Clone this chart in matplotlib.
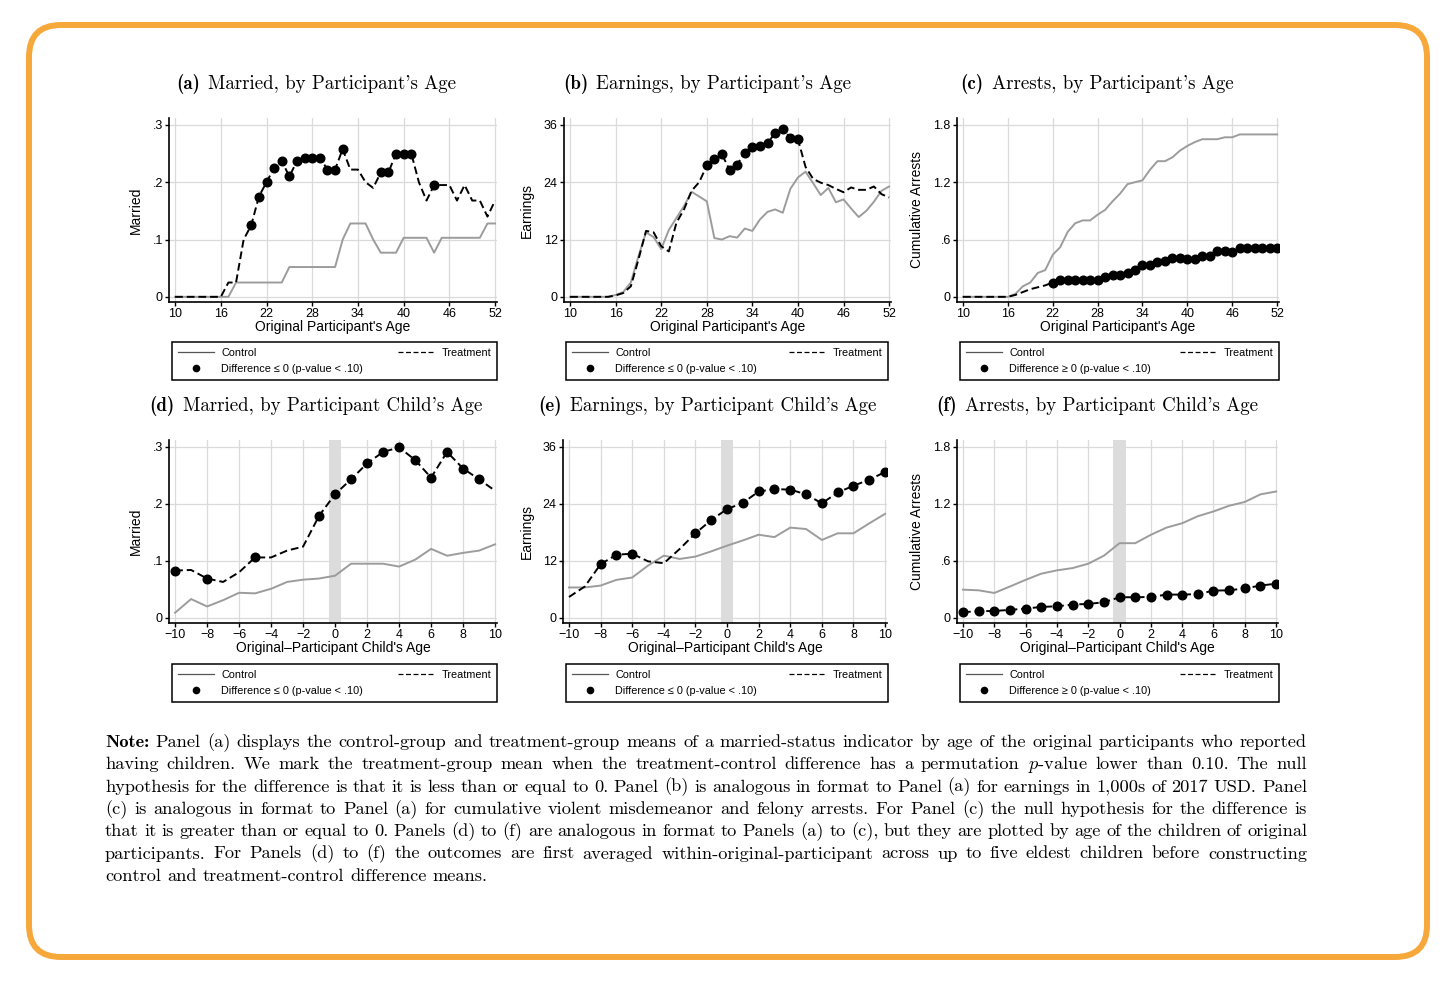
import matplotlib
matplotlib.use("Agg")
import matplotlib.pyplot as plt
from matplotlib.lines import Line2D
from matplotlib.patches import FancyBboxPatch
from matplotlib.transforms import IdentityTransform

plt.rcParams['font.family'] = ['Liberation Sans', 'DejaVu Sans']
plt.rcParams['mathtext.fontset'] = 'cm'

# ---- data ----
ages_top = list(range(10, 53))
ages_child = list(range(-10, 11))

married_ctrl = [0, 0, 0, 0, 0, 0, 0, 0,
                0.025, 0.025, 0.025, 0.025, 0.025, 0.025, 0.025,
                0.052, 0.052, 0.052, 0.052, 0.052, 0.052, 0.052,
                0.100, 0.128, 0.128, 0.128, 0.100, 0.077, 0.077, 0.077,
                0.103, 0.103, 0.103, 0.103, 0.077, 0.103, 0.103, 0.103,
                0.103, 0.103, 0.103, 0.128, 0.128]
married_treat = [0, 0, 0, 0, 0, 0, 0,
                 0.025, 0.025, 0.100, 0.125, 0.175, 0.200, 0.225, 0.237,
                 0.210, 0.237, 0.243, 0.243, 0.243, 0.222, 0.222, 0.258,
                 0.222, 0.222, 0.200, 0.190, 0.217, 0.217, 0.250, 0.250,
                 0.250, 0.200, 0.168, 0.195, 0.195, 0.195, 0.168, 0.195,
                 0.168, 0.168, 0.140, 0.168]
married_sig = [20, 21, 22, 23, 24, 25, 26, 27, 28, 29, 30, 31, 32,
               37, 38, 39, 40, 41, 44]

earn_ctrl = [0, 0, 0, 0, 0, 0,
             0.4, 1.0, 3.0, 8.5, 13.5, 12.5, 10.0, 14.0, 16.5, 19.0,
             22.0, 21.0, 20.0, 12.3, 12.0, 12.7, 12.4, 14.3, 13.8, 16.2,
             17.8, 18.3, 17.6, 22.6, 25.0, 26.2, 23.8, 21.3, 22.8, 19.8,
             20.4, 18.5, 16.7, 18.0, 19.9, 22.2, 23.1]
earn_treat = [0, 0, 0, 0, 0, 0,
              0.3, 0.8, 2.2, 7.8, 13.8, 13.5, 10.6, 9.5, 15.5, 18.3,
              22.2, 24.0, 27.5, 28.8, 29.8, 26.6, 27.7, 30.2, 31.3, 31.6,
              32.2, 34.3, 35.2, 33.3, 33.0, 27.2, 24.7, 23.9, 23.4, 22.6,
              21.9, 22.9, 22.4, 22.4, 23.1, 21.5, 20.8]
earn_sig = [28, 29, 30, 31, 32, 33, 34, 35, 36, 37, 38, 39, 40]

arrest_ctrl = [0, 0, 0, 0, 0, 0, 0,
               0.03, 0.11, 0.15, 0.25, 0.28, 0.44, 0.52, 0.68, 0.77,
               0.80, 0.80, 0.86, 0.91, 1.00, 1.08, 1.18, 1.20, 1.22, 1.33,
               1.42, 1.42, 1.46, 1.53, 1.58, 1.62, 1.65, 1.65, 1.65, 1.67,
               1.67, 1.70, 1.70, 1.70, 1.70, 1.70, 1.70]
arrest_treat = [0, 0, 0, 0, 0, 0, 0,
                0.02, 0.05, 0.08, 0.10, 0.12, 0.15, 0.175, 0.175, 0.175,
                0.175, 0.175, 0.175, 0.21, 0.23, 0.225, 0.25, 0.28, 0.33,
                0.33, 0.36, 0.38, 0.41, 0.41, 0.40, 0.40, 0.43, 0.43, 0.48,
                0.48, 0.47, 0.51, 0.51, 0.51, 0.51, 0.51, 0.51]
arrest_sig = list(range(22, 53))

mc_ctrl = [0.009, 0.033, 0.020, 0.031, 0.044, 0.043, 0.051, 0.063, 0.067,
           0.069, 0.074, 0.095, 0.095, 0.095, 0.090, 0.102, 0.121, 0.109,
           0.114, 0.118, 0.129]
mc_treat = [0.083, 0.084, 0.069, 0.063, 0.080, 0.106, 0.106, 0.118, 0.125,
            0.179, 0.217, 0.243, 0.271, 0.291, 0.299, 0.277, 0.246, 0.291,
            0.262, 0.243, 0.223]
mc_sig = [-10, -8, -5, -1, 0, 1, 2, 3, 4, 5, 6, 7, 8, 9]

ec_ctrl = [6.4, 6.4, 6.8, 8.0, 8.5, 11.0, 13.1, 12.4, 12.9, 14.0, 15.2,
           16.3, 17.5, 17.0, 19.0, 18.7, 16.4, 17.8, 17.8, 19.9, 21.9]
ec_treat = [4.4, 6.6, 11.3, 13.3, 13.5, 11.9, 11.5, 14.5, 17.8, 20.6, 22.9,
            24.2, 26.6, 27.1, 27.0, 26.0, 24.1, 26.4, 27.8, 29.1, 30.7]
ec_sig = [-8, -7, -6, -2, -1, 0, 1, 2, 3, 4, 5, 6, 7, 8, 9, 10]

ac_ctrl = [0.297, 0.290, 0.262, 0.330, 0.400, 0.465, 0.500, 0.524, 0.570,
           0.654, 0.786, 0.786, 0.874, 0.950, 0.996, 1.070, 1.120, 1.180,
           1.220, 1.300, 1.330]
ac_treat = [0.060, 0.070, 0.073, 0.084, 0.098, 0.115, 0.122, 0.140, 0.147,
            0.164, 0.217, 0.217, 0.220, 0.245, 0.245, 0.250, 0.287, 0.290,
            0.310, 0.340, 0.360]
ac_sig = list(range(-10, 11))

top_xticks = [10, 16, 22, 28, 34, 40, 46, 52]
child_xticks = [-10, -8, -6, -4, -2, 0, 2, 4, 6, 8, 10]
child_xlabels = ['\u221210', '\u22128', '\u22126', '\u22124', '\u22122',
                 '0', '2', '4', '6', '8', '10']
married_yticks = [0, 0.1, 0.2, 0.3]
married_ylabels = ['0', '.1', '.2', '.3']
earn_yticks = [0, 12, 24, 36]
earn_ylabels = ['0', '12', '24', '36']
arrest_yticks = [0, 0.6, 1.2, 1.8]
arrest_ylabels = ['0', '.6', '1.2', '1.8']

titles = ["Married, by Participant's Age", "Earnings, by Participant's Age",
          "Arrests, by Participant's Age", "Married, by Participant Child's Age",
          "Earnings, by Participant Child's Age", "Arrests, by Participant Child's Age"]
letters = ['(a)', '(b)', '(c)', '(d)', '(e)', '(f)']

note_lines = [
    "Note: Panel (a) displays the control-group and treatment-group means of a married-status indicator by age of the original participants who reported",
    "having children. We mark the treatment-group mean when the treatment-control difference has a permutation $p$-value lower than 0.10. The null",
    "hypothesis for the difference is that it is less than or equal to 0. Panel (b) is analogous in format to Panel (a) for earnings in 1,000s of 2017 USD. Panel",
    "(c) is analogous in format to Panel (a) for cumulative violent misdemeanor and felony arrests. For Panel (c) the null hypothesis for the difference is",
    "that it is greater than or equal to 0. Panels (d) to (f) are analogous in format to Panels (a) to (c), but they are plotted by age of the children of original",
    "participants. For Panels (d) to (f) the outcomes are first averaged within-original-participant across up to five eldest children before constructing",
    "control and treatment-control difference means.",
]

# ---- layout (pixels) ----
W, H = 1456, 982
GRAY = '#9c9c9c'
GRID = '#dadada'
NOTE_SIZE = 13.2
TITLE_SIZE = 13.6


def fig_rect(x0, y0, x1, y1):
    return [x0 / W, 1 - y1 / H, (x1 - x0) / W, (y1 - y0) / H]


fig = plt.figure(figsize=(W / 100, H / 100), dpi=100)
fig.patch.set_facecolor('white')
renderer = fig.canvas.get_renderer()

panels = [
    dict(x=ages_top, c=married_ctrl, t=married_treat, sig=married_sig, band=False,
         xt=top_xticks, xl=[str(v) for v in top_xticks], yt=married_yticks, yl=married_ylabels,
         ylab='Married', xlab="Original Participant's Age", sign='\u2264',
         box=(169, 118, 497, 302), ylx=136, tx=316, ty=84, leg=(172, 342, 497, 379)),
    dict(x=ages_top, c=earn_ctrl, t=earn_treat, sig=earn_sig, band=False,
         xt=top_xticks, xl=[str(v) for v in top_xticks], yt=earn_yticks, yl=earn_ylabels,
         ylab='Earnings', xlab="Original Participant's Age", sign='\u2264',
         box=(564, 118, 891, 302), ylx=527, tx=707, ty=84, leg=(566, 342, 888, 379)),
    dict(x=ages_top, c=arrest_ctrl, t=arrest_treat, sig=arrest_sig, band=False,
         xt=top_xticks, xl=[str(v) for v in top_xticks], yt=arrest_yticks, yl=arrest_ylabels,
         ylab='Cumulative Arrests', xlab="Original Participant's Age", sign='\u2265',
         box=(957, 118, 1279, 302), ylx=917, tx=1097, ty=84, leg=(960, 342, 1279, 379)),
    dict(x=ages_child, c=mc_ctrl, t=mc_treat, sig=mc_sig, band=True,
         xt=child_xticks, xl=child_xlabels, yt=married_yticks, yl=married_ylabels,
         ylab='Married', xlab="Original\u2013Participant Child's Age", sign='\u2264',
         box=(169, 440, 497, 623), ylx=136, tx=316, ty=406, leg=(172, 664, 497, 701)),
    dict(x=ages_child, c=ec_ctrl, t=ec_treat, sig=ec_sig, band=True,
         xt=child_xticks, xl=child_xlabels, yt=earn_yticks, yl=earn_ylabels,
         ylab='Earnings', xlab="Original\u2013Participant Child's Age", sign='\u2264',
         box=(563, 440, 887, 623), ylx=527, tx=707, ty=406, leg=(566, 664, 888, 701)),
    dict(x=ages_child, c=ac_ctrl, t=ac_treat, sig=ac_sig, band=True,
         xt=child_xticks, xl=child_xlabels, yt=arrest_yticks, yl=arrest_ylabels,
         ylab='Cumulative Arrests', xlab="Original\u2013Participant Child's Age", sign='\u2265',
         box=(957, 440, 1278, 623), ylx=917, tx=1097, ty=406, leg=(960, 664, 1279, 701)),
]

for p, letter, title in zip(panels, letters, titles):
    x0, y0, x1, y1 = p['box']
    ax = fig.add_axes(fig_rect(x0, y0, x1, y1))
    xs = p['x']
    xmin, xmax = xs[0], xs[-1]
    xr = xmax - xmin
    ymax = p['yt'][-1]
    ax.set_xlim(xmin - 0.019 * xr, xmax + 0.006 * xr)
    ax.set_ylim(-0.03 * ymax, ymax * 1.04)

    ax.set_axisbelow(True)
    ax.grid(True, color=GRID, lw=0.9)
    if p['band']:
        ax.axvspan(-0.4, 0.4, color='#dcdcdc', lw=0, zorder=1)

    ax.plot(xs, p['c'], color=GRAY, lw=1.4, zorder=3)
    ax.plot(xs, p['t'], color='black', lw=1.4, ls=(0, (4, 2)), zorder=4)
    sig_y = [p['t'][xs.index(a)] for a in p['sig']]
    ax.plot(p['sig'], sig_y, ls='none', marker='o', ms=6.2, color='black', zorder=5)

    ax.set_xticks(p['xt'])
    ax.set_xticklabels(p['xl'])
    ax.set_yticks(p['yt'])
    ax.set_yticklabels(p['yl'])
    ax.tick_params(direction='out', length=3, width=1, labelsize=9, pad=1.5, colors='black')
    for side in ('top', 'right'):
        ax.spines[side].set_visible(False)
    for side in ('left', 'bottom'):
        ax.spines[side].set_linewidth(1.2)

    ax.text((p['ylx'] - x0) / (x1 - x0), 0.5, p['ylab'], rotation=90, ha='center', va='center',
            fontsize=10, transform=ax.transAxes)
    ax.text(0.5, -25 / (y1 - y0), p['xlab'], ha='center', va='center',
            fontsize=10, transform=ax.transAxes)

    # panel caption: bold letter + roman text, centred as one piece
    ty = 1 - p['ty'] / H
    t_bold = fig.text(0, ty, letter, family='cmb10', fontsize=TITLE_SIZE, ha='left', va='center')
    t_rest = fig.text(0, ty, title, family='cmr10', fontsize=TITLE_SIZE, ha='left', va='center')
    wb = t_bold.get_window_extent(renderer).width
    wr = t_rest.get_window_extent(renderer).width
    sp = 0.42 * TITLE_SIZE * 100 / 72
    start = p['tx'] - (wb + sp + wr) / 2
    t_bold.set_x(start / W)
    t_rest.set_x((start + wb + sp) / W)

    handles = [Line2D([], [], color='#555555', lw=0.9),
               Line2D([], [], ls='none', marker='o', ms=4.5, color='black'),
               Line2D([], [], color='black', lw=0.9, ls=(0, (4, 2)))]
    labels = ['Control', 'Difference %s 0 (p-value < .10)' % p['sign'], 'Treatment']
    lx0, ly0, lx1, ly1 = p['leg']
    leg = ax.legend(handles, labels, ncol=2, mode='expand', loc='upper left',
                    bbox_to_anchor=(lx0 / W, 1 - ly1 / H, (lx1 - lx0) / W, (ly1 - ly0) / H),
                    bbox_transform=fig.transFigure, borderaxespad=0, fancybox=False,
                    edgecolor='black', framealpha=1, fontsize=7.8, handlelength=3.3,
                    handletextpad=0.7, borderpad=0.55, labelspacing=0.55, columnspacing=1.0)
    leg.get_frame().set_linewidth(1.1)

# ---- justified note ----
note_left, note_right = 105, 1307
for i, line in enumerate(note_lines):
    ybase = 1 - (747 + i * 22.3) / H
    words = line.split(' ')
    arts = []
    for w in words:
        fam = 'cmb10' if w == 'Note:' else 'cmr10'
        arts.append(fig.text(0, ybase, w, family=fam, fontsize=NOTE_SIZE, ha='left', va='baseline'))
    widths = [t.get_window_extent(renderer).width for t in arts]
    if i == len(note_lines) - 1:
        gap = 0.333 * NOTE_SIZE * 100 / 72
    else:
        gap = (note_right - note_left - sum(widths)) / (len(words) - 1)
    xpos = note_left
    for t, wd in zip(arts, widths):
        t.set_x(xpos / W)
        xpos += wd + gap

# ---- orange frame ----
border = FancyBboxPatch((29, H - 957), 1398, 932, boxstyle='round,pad=0,rounding_size=32',
                        transform=IdentityTransform(), fill=False, edgecolor='#F7A83A', lw=4.3)
fig.add_artist(border)

fig.savefig('out.png', dpi=100)
